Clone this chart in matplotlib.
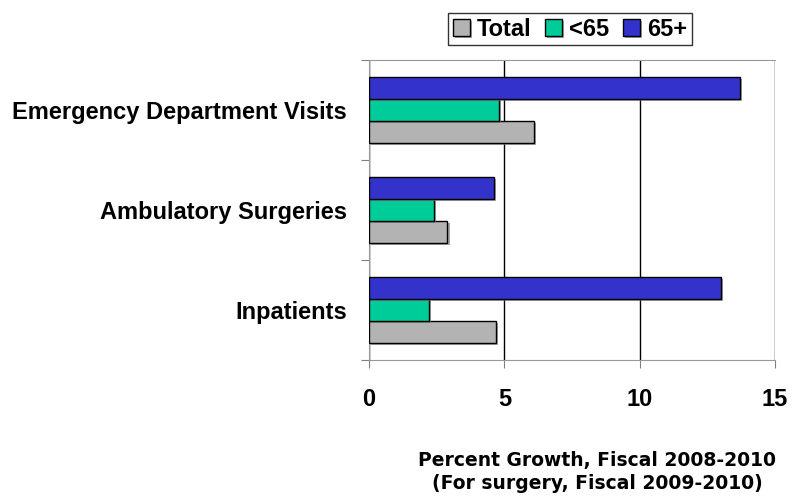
import numpy as np
import matplotlib
matplotlib.use("Agg")
import matplotlib.pyplot as plt
import matplotlib.patheffects as pe

# data
categories = ["Inpatients", "Ambulatory Surgeries", "Emergency Department Visits"]
total = [4.7, 2.9, 6.1]
under_65 = [2.2, 2.4, 4.8]
over_65 = [13.0, 4.6, 13.7]
x_ticks = [0, 5, 10, 15]

fig = plt.figure(figsize=(7.92, 4.97), dpi=100)
ax = fig.add_axes([369 / 792, 1 - 360 / 497, 406 / 792, 300 / 497])

y = np.arange(len(categories))
h = 0.22
shadow = [pe.SimplePatchShadow(offset=(1.5, -1.5), shadow_rgbFace="#808080", alpha=0.7), pe.Normal()]

b_tot = ax.barh(y - h, total, height=h, color="#b3b3b3", edgecolor="black", linewidth=1, zorder=3, label="Total")
b_u65 = ax.barh(y, under_65, height=h, color="#00cc99", edgecolor="black", linewidth=1, zorder=3, label="<65")
b_o65 = ax.barh(y + h, over_65, height=h, color="#3333cc", edgecolor="black", linewidth=1, zorder=3, label="65+")
for bars in (b_tot, b_u65, b_o65):
    for p in bars:
        p.set_path_effects(shadow)

ax.set_xlim(0, 15)
ax.set_ylim(-0.5, 2.5)

ax.set_xticks(x_ticks)
ax.set_xticklabels([str(t) for t in x_ticks], fontsize=17, fontweight="bold", family="Liberation Sans")
ax.tick_params(axis="x", direction="out", length=6, color="#808080", pad=14)
ax.xaxis.grid(True, color="black", linewidth=1, zorder=1)

ax.set_yticks([-0.5, 0.5, 1.5, 2.5])
ax.set_yticklabels([])
ax.tick_params(axis="y", which="major", direction="out", length=6, color="#808080")
ax.set_yticks(y, minor=True)
ax.set_yticklabels(categories, minor=True, fontsize=17, fontweight="bold", family="Liberation Sans")
ax.tick_params(axis="y", which="minor", length=0, pad=16)

for s in ["left", "bottom", "top"]:
    ax.spines[s].set_color("#999999")
ax.spines["right"].set_visible(False)

leg = ax.legend(handles=[b_tot, b_u65, b_o65], loc="center", ncol=3,
                bbox_to_anchor=(570 / 792, 1 - 29 / 497), bbox_transform=fig.transFigure,
                prop={"family": "Liberation Sans", "weight": "bold", "size": 17},
                frameon=True, fancybox=False, edgecolor="black",
                handlelength=0.7, handleheight=0.7, handletextpad=0.3,
                columnspacing=0.6, borderpad=0.2, borderaxespad=0)
leg.get_frame().set_linewidth(1)

fig.text(597 / 792, 1 - 472 / 497, "Percent Growth, Fiscal 2008-2010\n(For surgery, Fiscal 2009-2010)",
         ha="center", va="center", fontsize=13.5, fontweight="bold", family="DejaVu Sans", linespacing=1.25)

fig.savefig("out.png", dpi=100)
